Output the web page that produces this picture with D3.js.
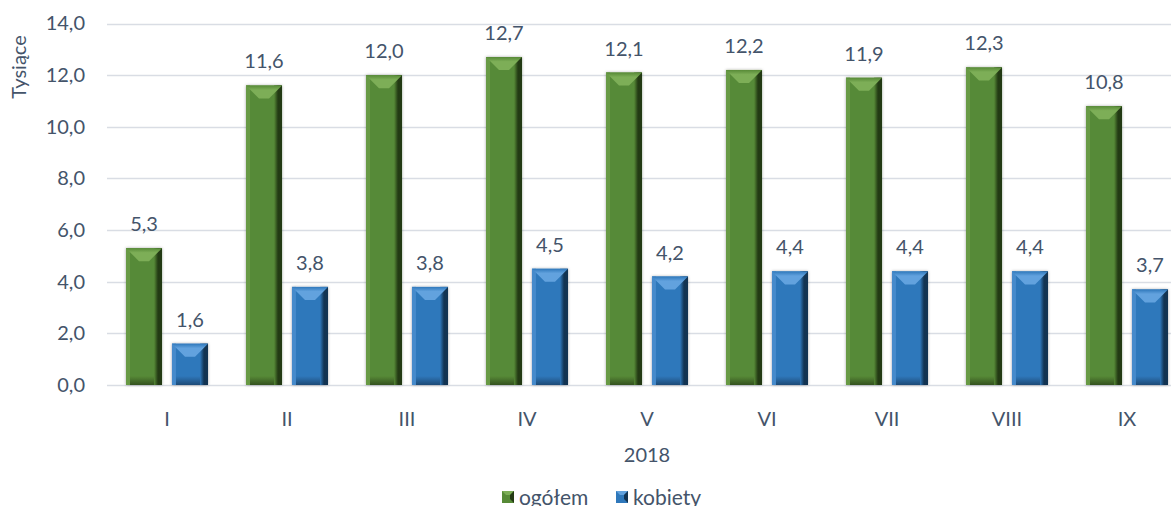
<!DOCTYPE html>
<html>
<head>
<meta charset="utf-8">
<script src="https://cdn.jsdelivr.net/npm/d3@7"></script>
<style>
  body { margin: 0; background: #fff; }
  svg { display: block; font-family: Lato, "Open Sans", sans-serif; }
</style>
</head>
<body>
<div id="chart"></div>
<script>
// data
var months = ["I", "II", "III", "IV", "V", "VI", "VII", "VIII", "IX"];
var seriesNames = ["ogółem", "kobiety"];
var ogolem = [5.3, 11.6, 12.0, 12.7, 12.1, 12.2, 11.9, 12.3, 10.8];
var kobiety = [1.6, 3.8, 3.8, 4.5, 4.2, 4.4, 4.4, 4.4, 3.7];
var yTicks = [0, 2, 4, 6, 8, 10, 12, 14];

var svgWidth = 1171;
var svgHeight = 506;
var textColor = "#44546a";

// colours for the bevelled bars
var palette = {
  "ogółem": { key: "g", main: "#578a37", top: "#7dae57", left: "#689a45", right: "#233a14", bottom: "#34521f" },
  "kobiety": { key: "b", main: "#2f78bb", top: "#62a2de", left: "#468acb", right: "#133452", bottom: "#1d4b77" }
};

var svg = d3.select("#chart")
  .append("svg")
  .attr("width", svgWidth)
  .attr("height", svgHeight);

var defs = svg.append("defs");
defs.append("filter")
  .attr("id", "shadow")
  .attr("x", "-30%").attr("y", "-10%").attr("width", "160%").attr("height", "120%")
  .append("feDropShadow")
  .attr("dx", 0).attr("dy", 0)
  .attr("stdDeviation", 1.6)
  .attr("flood-color", "#000")
  .attr("flood-opacity", 0.35);

// gradients for the bevel sides
seriesNames.forEach(function(name) {
  var c = palette[name];
  var rg = defs.append("linearGradient")
    .attr("id", "right-" + c.key)
    .attr("x1", "0").attr("x2", "1").attr("y1", "0").attr("y2", "0");
  rg.append("stop").attr("offset", "0").attr("stop-color", c.main);
  rg.append("stop").attr("offset", "0.5").attr("stop-color", c.right);
  rg.append("stop").attr("offset", "1").attr("stop-color", c.right);

  var bg = defs.append("linearGradient")
    .attr("id", "bottom-" + c.key)
    .attr("x1", "0").attr("x2", "0").attr("y1", "0").attr("y2", "1");
  bg.append("stop").attr("offset", "0").attr("stop-color", c.main);
  bg.append("stop").attr("offset", "1").attr("stop-color", c.bottom);

  var tg = defs.append("linearGradient")
    .attr("id", "top-" + c.key)
    .attr("x1", "0").attr("x2", "0").attr("y1", "0").attr("y2", "1");
  tg.append("stop").attr("offset", "0").attr("stop-color", c.main);
  tg.append("stop").attr("offset", "0.35").attr("stop-color", c.top);
  tg.append("stop").attr("offset", "1").attr("stop-color", c.top);
});

// scales
var x0 = d3.scaleBand()
  .domain(months)
  .range([107, 1187]);

var x1 = d3.scaleBand()
  .domain(seriesNames)
  .range([19, 101])
  .paddingInner(0.217);

var y = d3.scaleLinear()
  .domain([0, 14])
  .range([385, 23.5]);

// gridlines
svg.append("g")
  .selectAll("line")
  .data(yTicks)
  .enter()
  .append("line")
  .attr("x1", 107)
  .attr("x2", svgWidth)
  .attr("y1", d => Math.round(y(d)) + 0.5)
  .attr("y2", d => Math.round(y(d)) + 0.5)
  .attr("stroke", "#d9dde4")
  .attr("stroke-width", 1.3);

// y axis labels
var yAxis = d3.axisLeft(y)
  .tickValues(yTicks)
  .tickSize(0)
  .tickPadding(22)
  .tickFormat(d => d3.format(".1f")(d).replace(".", ","));

var yg = svg.append("g")
  .attr("transform", "translate(107,0)")
  .call(yAxis);
yg.select(".domain").remove();
yg.selectAll("text")
  .attr("font-family", "Lato, sans-serif")
  .attr("font-size", "20px")
  .attr("fill", textColor);

// x axis labels
var xAxis = d3.axisBottom(x0).tickSize(0).tickPadding(27);
var xg = svg.append("g")
  .attr("transform", "translate(0,385)")
  .call(xAxis);
xg.select(".domain").remove();
xg.selectAll("text")
  .attr("font-family", "Lato, sans-serif")
  .attr("font-size", "20px")
  .attr("fill", textColor);

// build rows
var rows = months.map(function(m, i) {
  return [
    { month: m, name: "ogółem", value: ogolem[i] },
    { month: m, name: "kobiety", value: kobiety[i] }
  ];
});

function bevelBar(g, d) {
  var c = palette[d.name];
  var x = x0(d.month) + x1(d.name);
  var w = x1.bandwidth();
  var top = y(d.value);
  var bot = y(0);
  var h = bot - top;
  var bt = Math.min(13, h / 2);
  var bb = Math.min(9, h / 3);
  g.append("rect")
    .attr("x", x).attr("y", top).attr("width", w).attr("height", h)
    .attr("fill", c.main)
    .attr("filter", "url(#shadow)");
  // left strip
  g.append("rect")
    .attr("x", x).attr("y", top).attr("width", 4).attr("height", h)
    .attr("fill", c.left);
  // right strip
  g.append("rect")
    .attr("x", x + w - 8).attr("y", top).attr("width", 8).attr("height", h)
    .attr("fill", "url(#right-" + c.key + ")");
  // bottom bevel
  g.append("polygon")
    .attr("points", [[x + 4, bot], [x + w - 8, bot], [x + w - 8, bot - bb], [x + 4, bot - bb]].join(" "))
    .attr("fill", "url(#bottom-" + c.key + ")");
  // top bevel
  g.append("polygon")
    .attr("points", [[x, top], [x + w, top], [x + w - bt, top + bt], [x + bt, top + bt]].join(" "))
    .attr("fill", "url(#top-" + c.key + ")");
}

var barsG = svg.append("g");
rows.forEach(function(r) {
  r.forEach(function(d) { bevelBar(barsG, d); });
});

// value labels
svg.append("g")
  .selectAll("text")
  .data(rows.flat())
  .enter()
  .append("text")
  .attr("x", d => x0(d.month) + x1(d.name) + x1.bandwidth() / 2)
  .attr("y", d => y(d.value) - 17)
  .attr("text-anchor", "middle")
  .attr("font-size", "20px")
  .attr("fill", textColor)
  .text(d => d3.format(".1f")(d.value).replace(".", ","));

// axis titles
svg.append("text")
  .attr("x", 647)
  .attr("y", 462)
  .attr("text-anchor", "middle")
  .attr("font-size", "20px")
  .attr("fill", textColor)
  .text("2018");

svg.append("text")
  .attr("transform", "translate(26,67) rotate(-90)")
  .attr("text-anchor", "middle")
  .attr("font-size", "20px")
  .attr("fill", textColor)
  .text("Tysiące");

// legend
var legend = svg.append("g");
var legendItems = [
  { name: "ogółem", x: 502 },
  { name: "kobiety", x: 616 }
];
legendItems.forEach(function(it) {
  var c = palette[it.name];
  var s = 12, lx = it.x, ly = 491;
  legend.append("rect").attr("x", lx).attr("y", ly).attr("width", s).attr("height", s).attr("fill", c.main);
  legend.append("polygon")
    .attr("points", [[lx, ly], [lx + s, ly], [lx + s - 4, ly + 4], [lx + 4, ly + 4]].join(" "))
    .attr("fill", c.top);
  legend.append("polygon")
    .attr("points", [[lx + s, ly], [lx + s, ly + s], [lx + s - 4, ly + s - 4], [lx + s - 4, ly + 4]].join(" "))
    .attr("fill", c.right);
  legend.append("text")
    .attr("x", lx + s + 5)
    .attr("y", ly + 14)
    .attr("font-size", "21px")
    .attr("fill", textColor)
    .text(it.name);
});
</script>
</body>
</html>
